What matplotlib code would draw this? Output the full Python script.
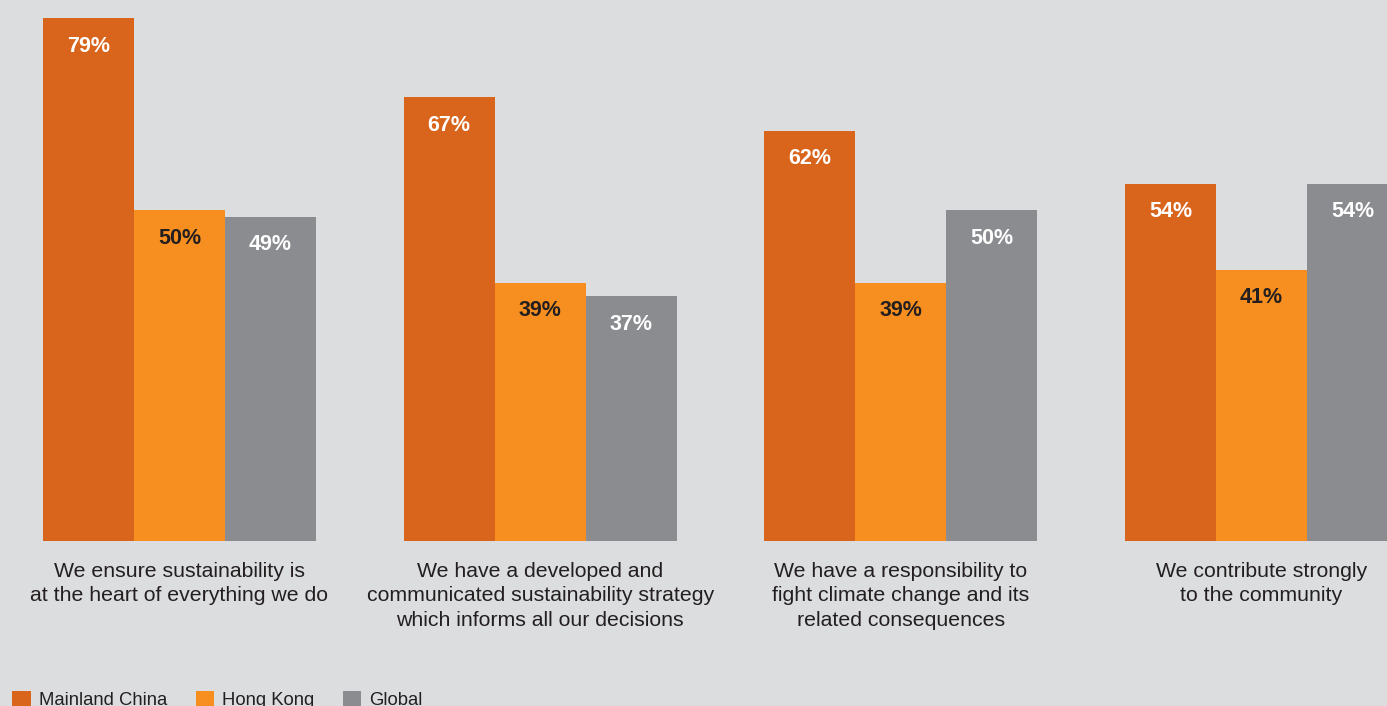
import matplotlib
matplotlib.use('Agg')

import matplotlib.pyplot as plt
from matplotlib.patches import Patch
import numpy as np

plt.rcParams['font.family'] = ['Liberation Sans', 'DejaVu Sans']

categories = [
    "We ensure sustainability is\nat the heart of everything we do",
    "We have a developed and\ncommunicated sustainability strategy\nwhich informs all our decisions",
    "We have a responsibility to\nfight climate change and its\nrelated consequences",
    "We contribute strongly\nto the community",
]
series_names = ["Mainland China", "Hong Kong", "Global"]
mainland = [79, 67, 62, 54]
hong_kong = [50, 39, 39, 41]
global_vals = [49, 37, 50, 54]

colors = ['#d9641c', '#f68f1f', '#8b8c90']
label_colors = ['white', '#231f20', 'white']
bg = '#dcdddf'

fig = plt.figure(figsize=(13.87, 7.06), dpi=100, facecolor=bg)
ax = fig.add_axes([0, 1 - 541 / 706, 1, 541 / 706])
ax.set_facecolor(bg)

x = np.arange(len(categories))
width = 91 / 360.67

for i, (vals, col, tcol) in enumerate(zip([mainland, hong_kong, global_vals], colors, label_colors)):
    pos = x + (i - 1) * width
    ax.bar(pos, vals, width=width, color=col, edgecolor='none', linewidth=0)
    for px, v in zip(pos, vals):
        ax.annotate(f"{v}%", (px, v), xytext=(0, -28), textcoords='offset pixels',
                    ha='center', va='center', color=tcol, fontsize=15.5, fontweight='bold')

ax.set_xlim(-179.5 / 360.67, (1387 - 179.5) / 360.67)
ax.set_ylim(0, 541 / 6.62)
ax.set_xticks(x)
ax.set_xticklabels(categories, fontsize=15.3, color='#231f20', linespacing=1.36)
ax.tick_params(axis='x', length=0, pad=15)
ax.set_yticks([])
for s in ax.spines.values():
    s.set_visible(False)

# legend sits at the bottom edge, partly clipped by the figure border
handles = [Patch(facecolor=c, edgecolor='none', label=n) for c, n in zip(colors, series_names)]
fig.legend(handles=handles, loc='center left', bbox_to_anchor=(12 / 1387 - 0.005, 1 - 700 / 706),
           ncol=3, frameon=False, fontsize=13.3, handlelength=0.98, handleheight=0.98,
           handletextpad=0.45, columnspacing=1.55, labelcolor='#231f20', borderaxespad=0)

fig.savefig('out.png', dpi=100, facecolor=bg)
